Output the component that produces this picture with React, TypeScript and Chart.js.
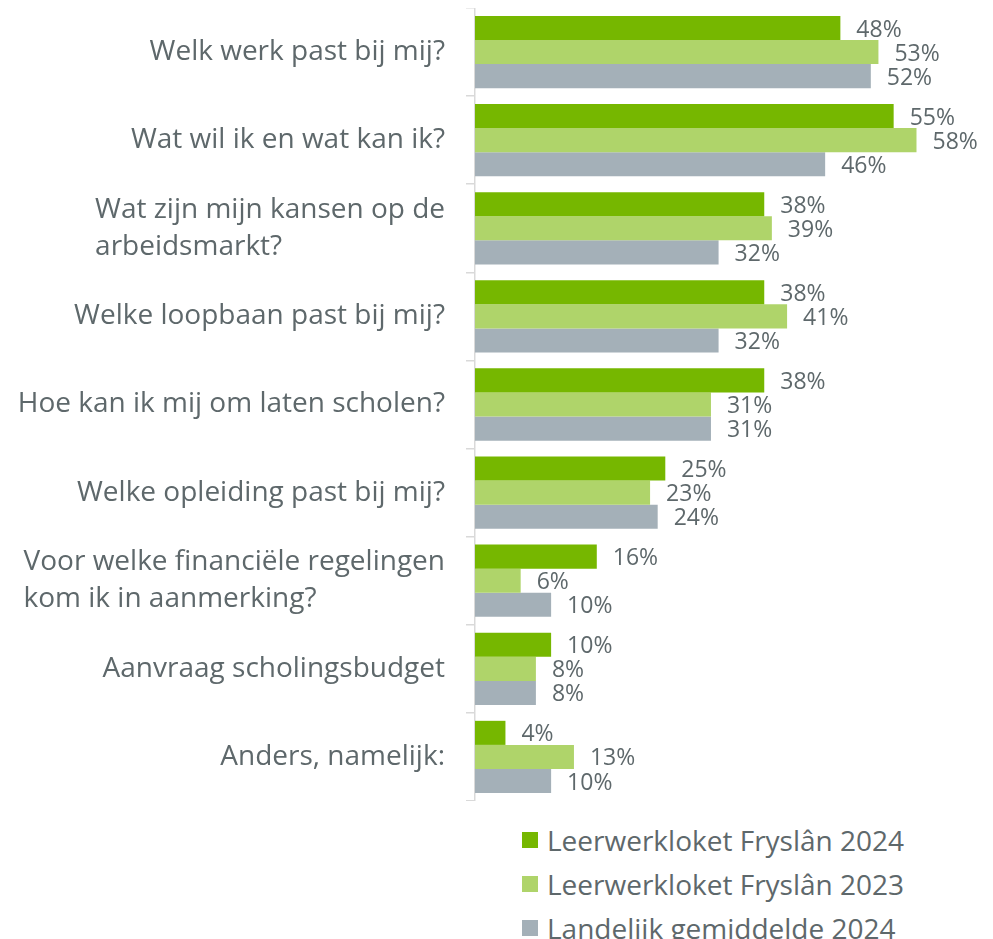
import React, { useEffect, useRef } from "react";
import { Chart, registerables } from "chart.js";

Chart.register(...registerables);

const categories: string[][] = [
  ["Welk werk past bij mij?"],
  ["Wat wil ik en wat kan ik?"],
  ["Wat zijn mijn kansen op de", "arbeidsmarkt?"],
  ["Welke loopbaan past bij mij?"],
  ["Hoe kan ik mij om laten scholen?"],
  ["Welke opleiding past bij mij?"],
  ["Voor welke financiële regelingen", "kom ik in aanmerking?"],
  ["Aanvraag scholingsbudget"],
  ["Anders, namelijk:"],
];
const seriesNames = [
  "Leerwerkloket Fryslân 2024",
  "Leerwerkloket Fryslân 2023",
  "Landelijk gemiddelde 2024",
];
const fryslan2024 = [48, 55, 38, 38, 38, 25, 16, 10, 4];
const fryslan2023 = [53, 58, 39, 41, 31, 23, 6, 8, 13];
const landelijk2024 = [52, 46, 32, 32, 31, 24, 10, 8, 10];
const colors = ["#76b700", "#afd46a", "#a4b0b8"];

const TEXT = "#5e686b";
const FONT = "'Open Sans', 'Noto Sans', sans-serif";

const labelPlugin = {
  id: "customLabels",
  afterDraw(chart: any) {
    const ctx = chart.ctx;
    ctx.save();
    // data labels
    ctx.font = `23px ${FONT}`;
    ctx.fillStyle = TEXT;
    ctx.textBaseline = "middle";
    ctx.textAlign = "left";
    chart.data.datasets.forEach((ds: any, di: number) => {
      const meta = chart.getDatasetMeta(di);
      meta.data.forEach((bar: any, i: number) => {
        ctx.fillText(ds.data[i] + "%", bar.x + 16, bar.y + 2);
      });
    });
    // category labels
    const yScale = chart.scales.y;
    ctx.font = `28px ${FONT}`;
    const rightX = 437;
    const lh = 37;
    categories.forEach((lines, i) => {
      const cy = yScale.getPixelForValue(i);
      const maxW = Math.max(...lines.map((l) => ctx.measureText(l).width));
      const x = rightX - maxW;
      const startY = cy - ((lines.length - 1) * lh) / 2;
      lines.forEach((l, k) => ctx.fillText(l, x, startY + k * lh));
    });
    ctx.restore();
  },
};

export default function App() {
  const ref = useRef<HTMLCanvasElement>(null);
  useEffect(() => {
    if (!ref.current) return;
    const chart = new Chart(ref.current, {
      type: "bar",
      data: {
        labels: categories.map((c) => c.join(" ")),
        datasets: [
          { label: seriesNames[0], data: fryslan2024, backgroundColor: colors[0] },
          { label: seriesNames[1], data: fryslan2023, backgroundColor: colors[1] },
          { label: seriesNames[2], data: landelijk2024, backgroundColor: colors[2] },
        ],
      },
      options: {
        indexAxis: "y",
        animation: false,
        responsive: false,
        maintainAspectRatio: false,
        layout: { padding: { top: 0, right: 0, bottom: 0, left: 0 } },
        datasets: { bar: { categoryPercentage: 0.82, barPercentage: 1 } },
        plugins: {
          legend: { display: false },
          tooltip: { enabled: false },
        },
        scales: {
          x: { display: false, min: 0, max: 67 },
          y: {
            afterFit: (scale: any) => {
              scale.width = 467;
            },
            grid: {
              offset: true,
              drawOnChartArea: false,
              drawTicks: true,
              tickLength: 9,
              color: "#d9d9d9",
              lineWidth: 1.5,
            },
            border: { display: true, color: "#d9d9d9", width: 1.5 },
            ticks: { display: false },
          },
        },
      },
      plugins: [labelPlugin],
    });
    return () => chart.destroy();
  }, []);

  return (
    <div>
      <canvas ref={ref} width={977} height={793} style={{ display: "block" }} />
      <div style={{ marginLeft: 514, marginTop: 17, fontFamily: FONT, fontSize: 28, color: TEXT }}>
        {seriesNames.map((n, i) => (
          <div key={n} style={{ display: "flex", alignItems: "center", height: 44 }}>
            <span
              style={{
                display: "inline-block",
                width: 16,
                height: 16,
                background: colors[i],
                marginRight: 9,
              }}
            />
            <span>{n}</span>
          </div>
        ))}
      </div>
    </div>
  );
}
